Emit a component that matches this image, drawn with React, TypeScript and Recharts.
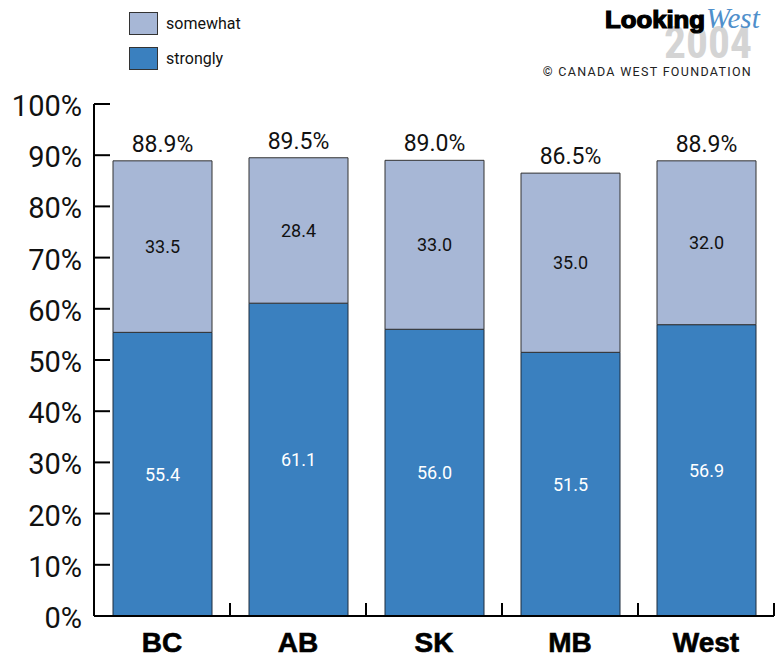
import React from "react";
import { BarChart, Bar, XAxis, YAxis, LabelList } from "recharts";

const categories = ["BC", "AB", "SK", "MB", "West"];
const strongly = [55.4, 61.1, 56.0, 51.5, 56.9];
const somewhat = [33.5, 28.4, 33.0, 35.0, 32.0];
const totals = [88.9, 89.5, 89.0, 86.5, 88.9];
const yTicks = [0, 10, 20, 30, 40, 50, 60, 70, 80, 90, 100];
const legendItems = [
  { label: "somewhat", color: "#a7b7d6" },
  { label: "strongly", color: "#3a80bf" },
];

const data = categories.map((c, i) => ({
  name: c,
  strongly: strongly[i],
  somewhat: somewhat[i],
  total: totals[i],
}));

const W = 782;
const H = 658;
const X_H = 30;
const M = { top: 104, right: 8, bottom: 12, left: 0 };
const Y_W = 94;
const PLOT_W = W - M.left - M.right - Y_W;
const HALF_BAND = PLOT_W / categories.length / 2;

const C_SOME = legendItems[0].color;
const C_STRONG = legendItems[1].color;

const YTick = (props: any) => {
  const { x, y, payload } = props;
  return (
    <g>
      <line x1={x} x2={x + 16} y1={y} y2={y} stroke="#000" strokeWidth={2} />
      <text
        x={x - 12}
        y={y + 2}
        textAnchor="end"
        dominantBaseline="central"
        fontFamily="Roboto"
        fontSize={29}
        fill="#111"
      >
        {payload.value}%
      </text>
    </g>
  );
};

const XTick = (props: any) => {
  const { x, y, payload } = props;
  const bx = x + HALF_BAND;
  return (
    <g>
      <line x1={bx} x2={bx} y1={y} y2={y - 13} stroke="#000" strokeWidth={2} />
      <text
        x={x}
        y={y + 26}
        textAnchor="middle"
        dominantBaseline="central"
        fontFamily="'Liberation Sans', Arial, sans-serif"
        fontWeight="bold"
        fontSize={28}
        fill="#000"
        stroke="#000"
        strokeWidth={0.6}
      >
        {payload.value}
      </text>
    </g>
  );
};

export default function App() {
  return (
    <div style={{ position: "absolute", left: 0, top: 0, width: W, height: H, background: "#fff" }}>
      <BarChart width={W} height={H} data={data} margin={M}>
        <YAxis
          type="number"
          domain={[0, 100]}
          ticks={yTicks}
          width={Y_W}
          axisLine={{ stroke: "#000", strokeWidth: 2 }}
          tickLine={false}
          tickSize={0}
          tickMargin={0}
          tick={<YTick />}
          interval={0}
        />
        <XAxis
          dataKey="name"
          height={X_H}
          axisLine={{ stroke: "#000", strokeWidth: 2 }}
          tickLine={false}
          tickSize={0}
          tickMargin={0}
          tick={<XTick />}
          interval={0}
        />
        <Bar
          dataKey="strongly"
          stackId="a"
          fill={C_STRONG}
          stroke="#1f2d3d"
          strokeWidth={1}
          barSize={99}
          isAnimationActive={false}
        >
          <LabelList
            dataKey="strongly"
            position="center"
            fill="#fff"
            fontFamily="Roboto"
            fontSize={18}
            formatter={(v: any) => Number(v).toFixed(1)}
          />
        </Bar>
        <Bar
          dataKey="somewhat"
          stackId="a"
          fill={C_SOME}
          stroke="#333"
          strokeWidth={1}
          barSize={99}
          isAnimationActive={false}
        >
          <LabelList
            dataKey="somewhat"
            position="center"
            fill="#111"
            fontFamily="Roboto"
            fontSize={18}
            formatter={(v: any) => Number(v).toFixed(1)}
          />
          <LabelList
            dataKey="total"
            position="top"
            offset={9}
            fill="#111"
            fontFamily="Roboto"
            fontSize={23}
            formatter={(v: any) => Number(v).toFixed(1) + "%"}
          />
        </Bar>
      </BarChart>
      <div
        style={{
          position: "absolute",
          left: 129,
          top: 12,
          fontFamily: "Roboto",
          fontSize: 16,
          color: "#111",
        }}
      >
        {legendItems.map((it) => (
          <div key={it.label} style={{ display: "flex", alignItems: "center", height: 23, marginBottom: 12 }}>
            <div
              style={{
                width: 27,
                height: 21,
                background: it.color,
                border: "1px solid #333",
                marginRight: 8,
              }}
            />
            <span>{it.label}</span>
          </div>
        ))}
      </div>
      <svg width={260} height={85} style={{ position: "absolute", left: 522, top: 0 }}>
        <text
          x={230}
          y={58}
          textAnchor="end"
          fontFamily="'Roboto Condensed', 'Liberation Sans Narrow', Roboto, sans-serif"
          fontWeight="bold"
          fontSize={44}
          fill="#d4d4d4"
          textLength={88}
          lengthAdjust="spacingAndGlyphs"
        >
          2004
        </text>
        <text
          x={83}
          y={28}
          fontFamily="'Liberation Sans', Arial, sans-serif"
          fontWeight="900"
          fontSize={23}
          fill="#000"
          stroke="#000"
          strokeWidth={1.2}
          textLength={100}
          lengthAdjust="spacingAndGlyphs"
        >
          Looking
        </text>
        <text
          x={184}
          y={28}
          fontFamily="'Liberation Serif', serif"
          fontStyle="italic"
          fontSize={29}
          fill="#4f8fcb"
        >
          West
        </text>
        <text
          x={230}
          y={76}
          textAnchor="end"
          fontFamily="Roboto"
          fontSize={12.5}
          letterSpacing={1.3}
          fill="#222"
        >
          © CANADA WEST FOUNDATION
        </text>
      </svg>
    </div>
  );
}
